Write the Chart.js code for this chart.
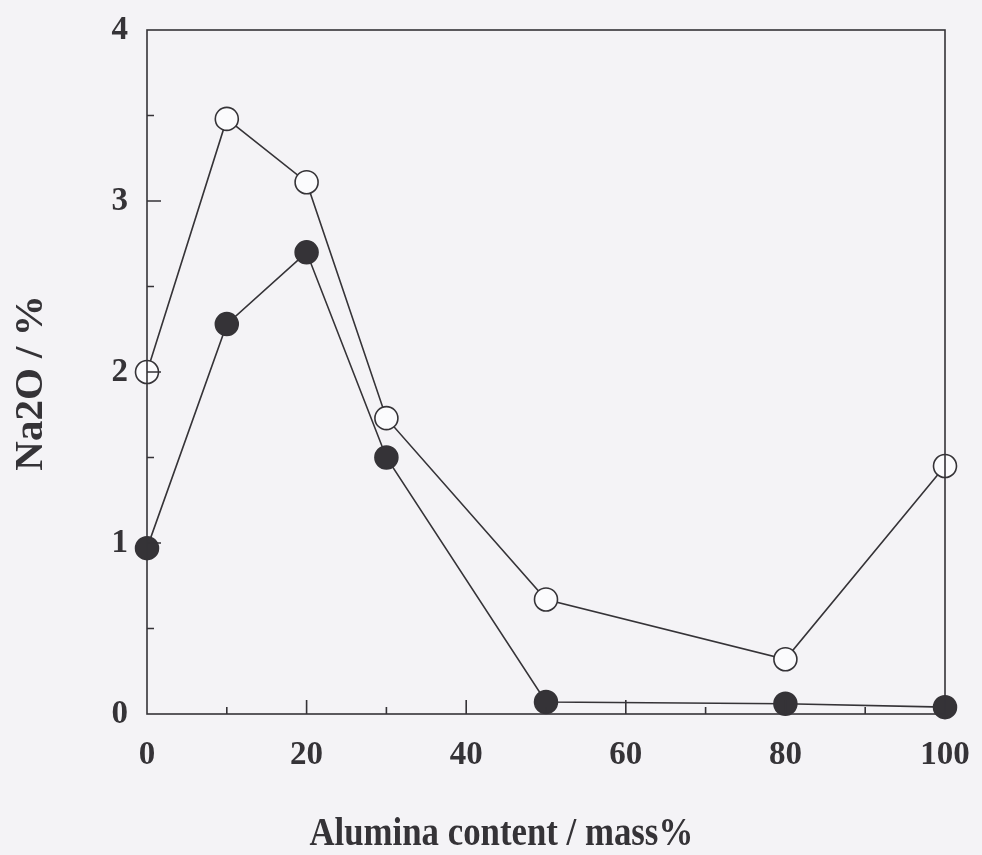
<!DOCTYPE html>
<html>
<head>
<meta charset="utf-8">
<script src="https://cdn.jsdelivr.net/npm/chart.js@4"></script>
<style>
  html, body { margin: 0; padding: 0; background: #f4f3f6; }
  #wrap { width: 982px; height: 855px; }
</style>
</head>
<body>
<div id="wrap"><canvas id="c" width="982" height="855"></canvas></div>
<script>
// Alumina content (mass%) and Na2O content (%) for the two sample series
const aluminaContent = [0, 10, 20, 30, 50, 80, 100];
const na2oOpen   = [2.00, 3.48, 3.11, 1.73, 0.67, 0.32, 1.45];
const na2oFilled = [0.97, 2.28, 2.70, 1.50, 0.07, 0.06, 0.04];
const xMajorTicks = [0, 20, 40, 60, 80, 100];
const yMajorTicks = [0, 1, 2, 3, 4];
const xTitle = 'Alumina content / mass%';
const yTitle = 'Na2O / %';

const ink = '#353337';
const fontFamily = '"Liberation Serif", "Times New Roman", serif';

const toPoints = ys => aluminaContent.map((x, i) => ({ x: x, y: ys[i] }));

// Plot frame plus inward tick marks (major and minor)
const framePlugin = {
  id: 'frame',
  afterDraw(chart) {
    const { ctx, chartArea: a, scales } = chart;
    ctx.save();
    ctx.strokeStyle = ink;
    ctx.lineWidth = 1.6;
    ctx.strokeRect(a.left, a.top, a.right - a.left, a.bottom - a.top);
    ctx.beginPath();
    scales.x.ticks.forEach(t => {
      if (t.value <= 0 || t.value >= 100) return;
      const px = scales.x.getPixelForValue(t.value);
      const len = xMajorTicks.includes(t.value) ? 14 : 7;
      ctx.moveTo(px, a.bottom);
      ctx.lineTo(px, a.bottom - len);
    });
    scales.y.ticks.forEach(t => {
      if (t.value <= 0 || t.value >= 4) return;
      const py = scales.y.getPixelForValue(t.value);
      const len = yMajorTicks.includes(t.value) ? 14 : 7;
      ctx.moveTo(a.left, py);
      ctx.lineTo(a.left + len, py);
    });
    ctx.stroke();
    ctx.restore();
  }
};

// Axis titles: the x title is a slightly condensed bold serif, placed below the tick labels
const axisTitlePlugin = {
  id: 'axisTitles',
  afterDraw(chart) {
    const { ctx, chartArea: a } = chart;
    ctx.save();
    ctx.fillStyle = ink;
    ctx.textAlign = 'center';
    ctx.textBaseline = 'alphabetic';

    ctx.save();
    ctx.font = 'bold 40px ' + fontFamily;
    ctx.translate(a.left + (a.right - a.left) * 0.444, a.bottom + 131);
    ctx.scale(0.87, 1);
    ctx.fillText(xTitle, 0, 0);
    ctx.restore();

    ctx.save();
    ctx.font = 'bold 41px ' + fontFamily;
    ctx.translate(42, (a.top + a.bottom) / 2 + 11);
    ctx.rotate(-Math.PI / 2);
    ctx.fillText(yTitle, 0, 0);
    ctx.restore();

    ctx.restore();
  }
};

new Chart(document.getElementById('c'), {
  type: 'scatter',
  data: {
    datasets: [
      {
        data: toPoints(na2oFilled),
        showLine: true,
        borderColor: ink,
        borderWidth: 1.6,
        backgroundColor: ink,
        pointBackgroundColor: ink,
        pointBorderColor: ink,
        pointBorderWidth: 1.5,
        pointRadius: 11.5,
        clip: false
      },
      {
        data: toPoints(na2oOpen),
        showLine: true,
        borderColor: ink,
        borderWidth: 1.6,
        pointBackgroundColor: '#fbfbfd',
        pointBorderColor: ink,
        pointBorderWidth: 1.6,
        pointRadius: 11.5,
        clip: false
      }
    ]
  },
  options: {
    responsive: false,
    animation: false,
    events: [],
    layout: { padding: { left: 0, top: 30, right: 37, bottom: 0 } },
    plugins: { legend: { display: false }, tooltip: { enabled: false } },
    scales: {
      x: {
        type: 'linear',
        min: 0, max: 100,
        border: { display: false },
        grid: { display: false, drawTicks: false },
        ticks: {
          stepSize: 10,
          autoSkip: false,
          maxRotation: 0,
          padding: 22,
          color: ink,
          font: { family: fontFamily, size: 33, weight: 'bold' },
          callback: v => xMajorTicks.includes(v) ? String(v) : ''
        },
        afterFit: s => {
          s.height = 141;
          s.paddingLeft = 0;
          s.paddingRight = 0;
        }
      },
      y: {
        type: 'linear',
        min: 0, max: 4,
        border: { display: false },
        grid: { display: false, drawTicks: false },
        ticks: {
          stepSize: 0.5,
          autoSkip: false,
          padding: 19,
          color: ink,
          font: { family: fontFamily, size: 33, weight: 'bold' },
          callback: v => yMajorTicks.includes(v) ? String(v) : ''
        },
        afterFit: s => {
          s.width = 147;
          s.paddingTop = 0;
          s.paddingBottom = 0;
        }
      }
    }
  },
  plugins: [framePlugin, axisTitlePlugin]
});
</script>
</body>
</html>
